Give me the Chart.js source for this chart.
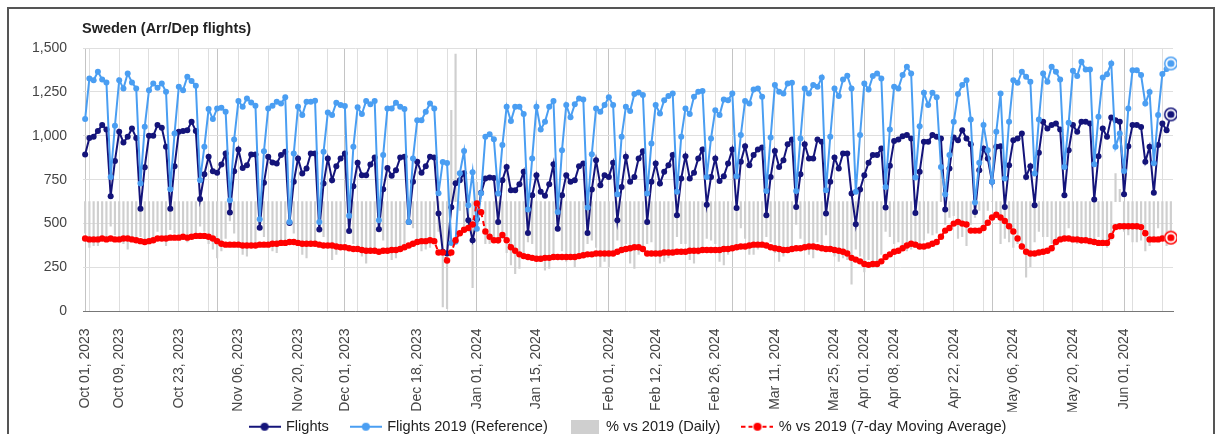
<!DOCTYPE html>
<html>
<head>
<meta charset="utf-8">
<script src="https://cdn.jsdelivr.net/npm/chart.js@4.4.1/dist/chart.umd.min.js"></script>
<style>
  html, body { margin: 0; padding: 0; background: #fff; overflow: hidden; }
  #wrap { position: relative; width: 1215px; height: 434px; overflow: hidden; }
  #frame { position: absolute; left: 7px; top: 7px; width: 1208px; height: 500px; border: 2px solid #555; box-sizing: border-box; }
  #chart { position: absolute; left: 0; top: 0; }
</style>
</head>
<body>
<div id="wrap">
  <div id="frame"></div>
  <canvas id="chart" width="1215" height="459"></canvas>
</div>
<script>
let titleText = "Sweden (Arr/Dep flights)";
let startDay = [2023, 9, 1]; // Oct 01, 2023, one point per day
let monthNames = ["Jan", "Feb", "Mar", "Apr", "May", "Jun", "Jul", "Aug", "Sep", "Oct", "Nov", "Dec"];

// x labels that are actually printed under the axis
let shownTicks = [
  "Oct 01, 2023", "Oct 09, 2023", "Oct 23, 2023", "Nov 06, 2023", "Nov 20, 2023",
  "Dec 01, 2023", "Dec 18, 2023", "Jan 01, 2024", "Jan 15, 2024", "Feb 01, 2024",
  "Feb 12, 2024", "Feb 26, 2024", "Mar 11, 2024", "Mar 25, 2024", "Apr 01, 2024",
  "Apr 08, 2024", "Apr 22, 2024", "May 06, 2024", "May 20, 2024", "Jun 01, 2024",
];

let seriesNames = ["Flights", "Flights 2019 (Reference)", "% vs 2019 (Daily)", "% vs 2019 (7-day Moving Average)"];

let flights = [
  893, 988, 994, 1028, 1061, 1036, 656,
  857, 1023, 962, 994, 1042, 988, 585,
  821, 1000, 1000, 1061, 1046, 937, 585,
  827, 1023, 1028, 1032, 1080, 1028, 640,
  781, 880, 798, 789, 836, 899, 563,
  798, 922, 817, 832, 893, 893, 477,
  732, 880, 848, 842, 890, 909, 504,
  738, 871, 785, 814, 899, 899, 466,
  728, 871, 747, 827, 871, 899, 458,
  713, 846, 776, 776, 836, 876, 468,
  696, 817, 772, 804, 876, 880, 509,
  738, 852, 789, 827, 880, 876, 557,
  340, 330, 593, 730, 747, 787, 519,
  405, 525, 675, 757, 762, 760, 509,
  747, 823, 690, 690, 724, 795, 447,
  662, 776, 681, 658, 724, 838, 471,
  662, 776, 738, 747, 827, 842, 447,
  694, 861, 719, 776, 766, 846, 519,
  709, 880, 738, 766, 871, 912, 509,
  738, 842, 728, 795, 833, 890, 547,
  757, 884, 757, 789, 871, 922, 608,
  766, 871, 743, 770, 842, 922, 589,
  852, 941, 833, 890, 922, 933, 547,
  766, 914, 823, 861, 952, 979, 595,
  781, 952, 871, 871, 979, 966, 557,
  738, 876, 814, 899, 899, 671, 496,
  694, 776, 846, 890, 890, 928, 591,
  829, 971, 979, 998, 1004, 985, 561,
  795, 966, 966, 1004, 994, 985, 580,
  814, 990, 975, 1032, 985, 952, 566,
  804, 928, 871, 738, 937, 941, 595,
  833, 975, 985, 1013, 766, 827, 605,
  903, 1080, 1042, 1061, 1070, 1036, 662,
  918, 1061, 1023, 1080, 1080, 1070, 637,
  884, 1042, 994, 1104, 1089, 1080, 667,
  941, 1061, 1061, 1050, 852, 937, 675,
  947, 1070, 1032, 1122,
];

let flights2019 = [
  1095, 1327, 1317, 1365, 1321, 1304, 766,
  1057, 1317, 1270, 1355, 1304, 1270, 728,
  1051, 1260, 1298, 1274, 1298, 1251, 696,
  1013, 1279, 1260, 1336, 1312, 1285, 747,
  937, 1152, 1095, 1156, 1160, 1137, 633,
  979, 1198, 1165, 1213, 1190, 1171, 525,
  912, 1156, 1171, 1194, 1184, 1219, 509,
  899, 1165, 1118, 1194, 1194, 1199, 509,
  909, 1133, 1118, 1188, 1175, 1169, 544,
  937, 1162, 1124, 1198, 1179, 1198, 519,
  890, 1156, 1156, 1188, 1165, 1152, 509,
  871, 1089, 1089, 1137, 1184, 1156, 673,
  851, 845, 390, 397, 787, 913, 604,
  793, 471, 673, 994, 1009, 981, 671,
  947, 1165, 1084, 1165, 1165, 1124, 580,
  871, 1165, 1036, 1080, 1165, 1198, 566,
  918, 1175, 1105, 1179, 1213, 1207, 591,
  895, 1156, 1137, 1175, 1219, 1175, 667,
  994, 1165, 1141, 1238, 1247, 1232, 671,
  956, 1175, 1127, 1203, 1226, 1241, 681,
  994, 1156, 1124, 1222, 1251, 1255, 766,
  985, 1146, 1118, 1207, 1203, 1241, 770,
  1004, 1198, 1184, 1264, 1270, 1222, 686,
  990, 1289, 1251, 1241, 1298, 1302, 686,
  985, 1270, 1241, 1289, 1279, 1332, 690,
  994, 1270, 1226, 1321, 1342, 1270, 681,
  1004, 1298, 1264, 1340, 1355, 1327, 709,
  1036, 1279, 1270, 1346, 1393, 1355, 762,
  1055, 1245, 1175, 1245, 1219, 823, 667,
  890, 1080, 1238, 1289, 1317, 1093, 620,
  846, 1061, 918, 738, 1023, 1241, 757,
  1080, 1317, 1302, 1365, 1336, 1308, 785,
  1093, 1355, 1308, 1393, 1365, 1321, 823,
  1074, 1371, 1340, 1422, 1378, 1378, 838,
  1108, 1332, 1351, 1412, 937, 1013, 800,
  1156, 1374, 1374, 1346, 1184, 1250, 844,
  1118, 1352, 1380, 1412,
];

let pctDaily = [
  -18, -26, -25, -25, -20, -21, -14,
  -19, -22, -24, -27, -20, -22, -20,
  -22, -21, -23, -17, -19, -25, -16,
  -18, -20, -18, -23, -18, -20, -14,
  -17, -24, -27, -32, -28, -21, -11,
  -18, -23, -30, -31, -25, -24, -9,
  -20, -24, -28, -29, -25, -25, -1,
  -18, -25, -30, -32, -25, -25, -8,
  -20, -23, -33, -30, -26, -23, -16,
  -24, -27, -31, -35, -29, -27, -10,
  -22, -29, -33, -32, -25, -24, 0,
  -15, -22, -28, -27, -26, -24, -17,
  -60, -61, 52, 84, -5, -14, -14,
  -49, 11, 0, -24, -24, -23, -24,
  -21, -29, -36, -41, -38, -29, -23,
  -24, -33, -34, -39, -38, -30, -17,
  -28, -34, -33, -37, -32, -30, -24,
  -22, -26, -37, -34, -37, -28, -22,
  -29, -24, -35, -38, -30, -26, -24,
  -23, -28, -35, -34, -32, -28, -20,
  -24, -24, -33, -35, -30, -27, -21,
  -22, -24, -34, -36, -30, -26, -24,
  -15, -21, -30, -30, -27, -24, -20,
  -23, -29, -34, -31, -27, -25, -13,
  -21, -25, -30, -32, -23, -27, -19,
  -26, -31, -34, -32, -33, -47, -27,
  -31, -40, -33, -34, -34, -30, -17,
  -20, -24, -23, -26, -28, -27, -26,
  -25, -22, -18, -19, -18, 20, -13,
  -9, -8, -21, -20, -25, -13, -9,
  -5, -13, -5, 0, -8, -24, -21,
  -23, -26, -24, -26, -43, -37, -23,
  -17, -20, -20, -24, -22, -22, -20,
  -15, -23, -24, -24, -22, -22, -24,
  -20, -22, -26, -22, 16, 7, -17,
  -19, -23, -23, -22, -28, -25, -20,
  -15, -21, -25, -21,
];

let pctAvg7 = [
  -21, -21.5, -21.5, -21.5, -21, -21.5, -21,
  -21.5, -21.5, -21, -21, -21.5, -22, -22.5,
  -23, -22.5, -22, -21, -21, -21, -20.5,
  -20.5, -20.5, -20, -20.5, -20, -19.5, -19.5,
  -19.5, -20, -21, -22.5, -24, -24.5, -24.5,
  -24.5, -24.5, -25, -25, -25, -25, -24.5,
  -24.5, -24.5, -24, -24, -23.5, -23.5, -23,
  -23, -23.5, -24, -24, -24, -24, -24.5,
  -25, -25, -25, -25.5, -26, -26, -26.5,
  -27, -27, -27.5, -28, -28, -28, -28.5,
  -28, -28, -27.5, -27.5, -27, -26, -25,
  -24, -23, -22.5, -22.5, -22, -22.5, -29,
  -29, -33.5, -29, -22, -18, -16, -15,
  -13, -1, -6, -17, -20, -22, -22,
  -19, -22, -26, -28, -30, -31, -31.5,
  -32, -32.5, -32.5, -32, -32, -31.5, -31.5,
  -31.5, -31.5, -31.5, -31.5, -31, -30.5, -30,
  -30, -29.5, -29.5, -29.5, -29.5, -29.5, -28.5,
  -27.5, -27, -26.5, -26, -26, -27, -29.5,
  -29.5, -29.5, -29.5, -29, -29, -29, -28.5,
  -28.5, -28.5, -28, -28, -28, -27.5, -27.5,
  -27.5, -27.5, -27.5, -27, -27, -26.5, -26,
  -25.5, -25.5, -25, -24.5, -24.5, -24.5, -25,
  -26, -26.5, -27, -27.5, -27.5, -27, -26.5,
  -26.5, -26, -25.5, -25.5, -26, -26.5, -27,
  -27, -27.5, -28, -28.5, -29.5, -32, -33,
  -34, -35.5, -36, -35.5, -35.5, -34, -31.5,
  -30, -28.5, -28, -26.5, -25, -24, -24.5,
  -25.5, -25.5, -25, -24, -23, -20, -16.5,
  -15, -12.5, -11.5, -12.5, -13, -16.5, -16.5,
  -16.5, -15, -12, -9, -7.5, -9, -11,
  -14, -17, -21, -25.5, -28.5, -29.5, -29.5,
  -29, -28.5, -28, -26.5, -23, -21.5, -21,
  -21, -21.5, -21.5, -22, -22, -22.5, -23,
  -23.5, -23.5, -23.5, -19.5, -14.5, -14, -14,
  -14, -14, -14, -14.5, -18, -21.5, -21.5,
  -21.5, -21, -21, -20.5,
];

let darkBlue = "#14147a";
let lightBlue = "#4a9ef2";
let barGrey = "#cfcfcf";
let red = "#ff0000";
let fontFamily = '"Liberation Sans", Arial, sans-serif';

// one label and one date per day
let days = [];
let labels = [];
for (let i = 0; i < flights.length; i++) {
  let d = new Date(Date.UTC(startDay[0], startDay[1], startDay[2] + i));
  days.push(d);
  labels.push(monthNames[d.getUTCMonth()] + " " + String(d.getUTCDate()).padStart(2, "0") + ", " + d.getUTCFullYear());
}

function makeCanvas(w, h) {
  let c = document.createElement("canvas");
  c.width = w;
  c.height = h;
  return c;
}

// legend symbols: line with a dot, grey box
function lineIcon(color, dashed) {
  let c = makeCanvas(32, 12);
  let g = c.getContext("2d");
  g.strokeStyle = color;
  g.lineWidth = 2;
  if (dashed) g.setLineDash([4, 3]);
  g.beginPath();
  g.moveTo(0, 6);
  g.lineTo(32, 6);
  g.stroke();
  g.fillStyle = color;
  g.beginPath();
  g.arc(16, 6, 4, 0, Math.PI * 2);
  g.fill();
  return c;
}
function boxIcon(color) {
  let c = makeCanvas(28, 14);
  let g = c.getContext("2d");
  g.fillStyle = color;
  g.fillRect(0, 0, 28, 14);
  return c;
}
// ring marker on the last point of each line
function ringIcon(color) {
  let c = makeCanvas(16, 16);
  let g = c.getContext("2d");
  g.fillStyle = "#fff";
  g.beginPath();
  g.arc(8, 8, 7, 0, Math.PI * 2);
  g.fill();
  g.strokeStyle = color;
  g.lineWidth = 1.5;
  g.beginPath();
  g.arc(8, 8, 6.2, 0, Math.PI * 2);
  g.stroke();
  g.fillStyle = color;
  g.beginPath();
  g.arc(8, 8, 3.6, 0, Math.PI * 2);
  g.fill();
  return c;
}

let legendIcons = [lineIcon(darkBlue), lineIcon(lightBlue), boxIcon(barGrey), lineIcon(red, true)];
let lastIndex = flights.length - 1;
let endStyle = (ring) => (ctx) => (ctx.dataIndex === lastIndex ? ring : "circle");

let titlePlugin = {
  id: "titleText",
  afterDraw(chart) {
    let c = chart.ctx;
    c.save();
    c.font = "bold 14.5px " + fontFamily;
    c.fillStyle = "#222";
    c.textBaseline = "middle";
    c.fillText(titleText, 82, 29);
    c.restore();
  },
};
// legend sits a bit right (centred on the plot) and tucked up under the labels
let legendShift = {
  id: "legendShift",
  afterUpdate(chart) {
    let l = chart.legend;
    l.left += 21;
    l.right += 21;
    l.top -= 15;
    l.bottom -= 15;
  },
};

let renderChart = () => {
  Chart.defaults.font.family = fontFamily;
  Chart.defaults.color = "#444";

  new Chart(document.getElementById("chart"), {
    data: {
      labels: labels,
      datasets: [
        {
          type: "line",
          label: seriesNames[0],
          data: flights,
          yAxisID: "y",
          borderColor: darkBlue,
          backgroundColor: darkBlue,
          borderWidth: 2,
          pointRadius: 3,
          pointBorderWidth: 0,
          pointStyle: endStyle(ringIcon(darkBlue)),
          order: 3,
        },
        {
          type: "line",
          label: seriesNames[1],
          data: flights2019,
          yAxisID: "y",
          borderColor: lightBlue,
          backgroundColor: lightBlue,
          borderWidth: 2,
          pointRadius: 3,
          pointBorderWidth: 0,
          pointStyle: endStyle(ringIcon(lightBlue)),
          order: 2,
        },
        {
          type: "bar",
          label: seriesNames[2],
          data: pctDaily,
          yAxisID: "y1",
          backgroundColor: barGrey,
          barThickness: 1.5,
          order: 5,
        },
        {
          type: "line",
          label: seriesNames[3],
          data: pctAvg7,
          yAxisID: "y1",
          borderColor: red,
          backgroundColor: red,
          borderWidth: 2,
          borderDash: [5, 4],
          pointRadius: 3.2,
          pointBorderWidth: 0,
          pointStyle: endStyle(ringIcon(red)),
          order: 1,
        },
      ],
    },
    options: {
      responsive: false,
      animation: false,
      events: [],
      devicePixelRatio: 1,
      layout: { padding: { top: 48, left: 0, right: 0, bottom: 0 } },
      plugins: {
        tooltip: { enabled: false },
        legend: {
          display: true,
          position: "bottom",
          labels: {
            usePointStyle: true,
            pointStyleWidth: 28,
            padding: 23,
            color: "#222",
            font: { size: 14.6 },
            sort: (a, b) => a.datasetIndex - b.datasetIndex,
            generateLabels(chart) {
              let items = Chart.defaults.plugins.legend.labels.generateLabels(chart);
              items.forEach((it) => {
                it.pointStyle = legendIcons[it.datasetIndex];
              });
              return items;
            },
          },
        },
      },
      scales: {
        x: {
          type: "category",
          offset: true,
          grid: {
            offset: false,
            drawTicks: false,
            color: (ctx) => {
              let d = days[ctx.index];
              if (!d) return "rgba(0,0,0,0)";
              if (d.getUTCDate() === 1) return "#c4c4c4";
              if (d.getUTCDay() === 1) return "#dedede";
              return "rgba(0,0,0,0)";
            },
          },
          border: { color: "#777" },
          ticks: {
            autoSkip: false,
            minRotation: 90,
            maxRotation: 90,
            padding: 17,
            font: { size: 14 },
            callback: function (v) {
              let l = this.getLabelForValue(v);
              return shownTicks.includes(l) ? l : "";
            },
          },
          afterFit: (s) => {
            s.height = 100;
          },
        },
        y: {
          position: "left",
          min: 0,
          max: 1500,
          ticks: { stepSize: 250, padding: 16, font: { size: 14 } },
          grid: { color: "#dfdfdf", drawTicks: false },
          border: { display: false },
          afterFit: (s) => {
            s.width = 83;
          },
        },
        y1: {
          position: "right",
          min: -62.5,
          max: 87.5,
          ticks: {
            stepSize: 25,
            padding: 5,
            font: { size: 14 },
            callback: (v) => (v % 25 === 0 ? v + "%" : null),
          },
          grid: {
            color: (ctx) => (ctx.tick && ctx.tick.value === 0 ? "#555" : "#dfdfdf"),
            drawTicks: false,
          },
          border: { display: false },
          afterFit: (s) => {
            s.width = 42;
          },
        },
      },
    },
    plugins: [titlePlugin, legendShift],
  });
};

renderChart();
</script>
</body>
</html>
